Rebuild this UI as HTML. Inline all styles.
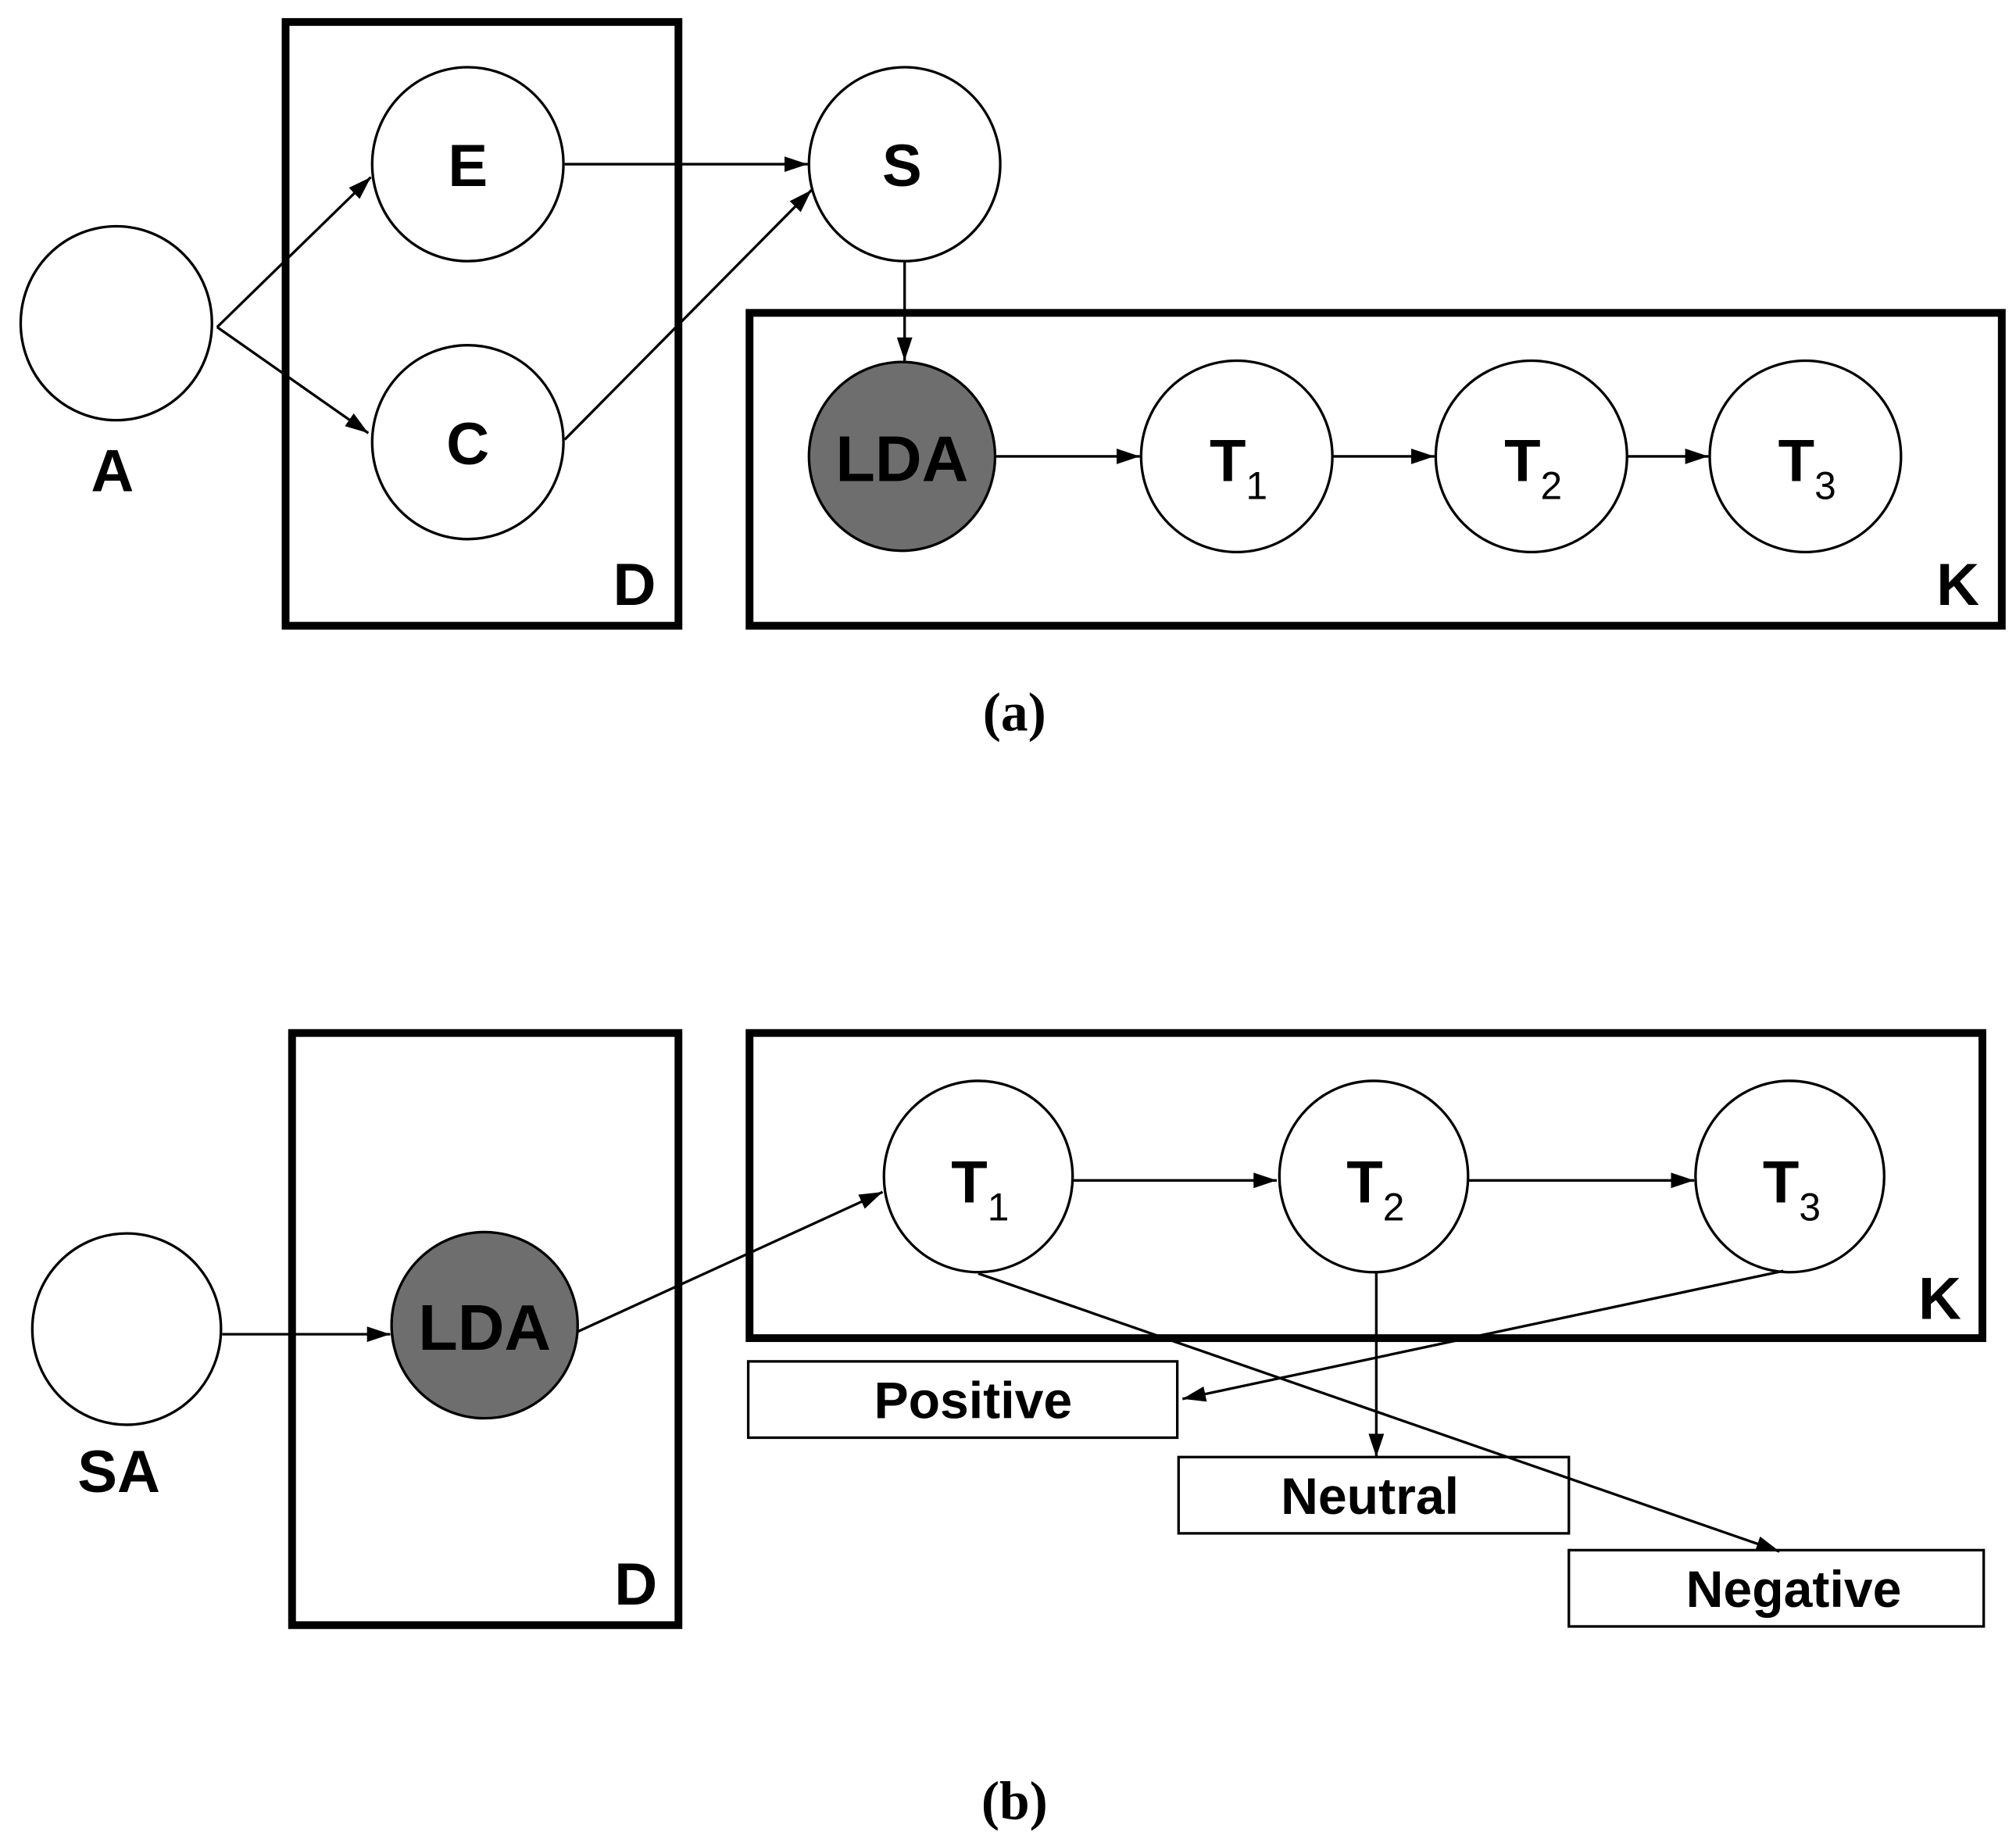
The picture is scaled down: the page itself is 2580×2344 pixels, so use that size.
<!DOCTYPE html>
<html><head><style>html,body{margin:0;padding:0;background:#fff}svg{display:block}</style></head>
<body>
<svg width="2580" height="2344" viewBox="0 0 1560 1417" preserveAspectRatio="none" xmlns="http://www.w3.org/2000/svg">
<defs>
<marker id="a2" viewBox="0 0 18 12" markerWidth="18" markerHeight="12" refX="18" refY="6" orient="auto" markerUnits="userSpaceOnUse"><path d="M0,0 L18,6 L0,12 z"/></marker>
</defs>
<g fill="none" stroke="#000" stroke-width="6">
<rect x="221" y="17" width="304" height="467"/>
<rect x="580" y="242" width="969" height="242"/>
<rect x="226" y="799" width="299" height="458"/>
<rect x="580" y="799" width="954" height="236"/>
</g>
<g fill="#fff" stroke="#000" stroke-width="2">
<rect x="579" y="1053" width="332" height="59"/>
<rect x="912" y="1127" width="302" height="59"/>
<rect x="1214" y="1199" width="321" height="59"/>
<ellipse cx="90" cy="250" rx="74" ry="75"/>
<ellipse cx="362" cy="127" rx="74" ry="75"/>
<ellipse cx="362" cy="342" rx="74" ry="75"/>
<ellipse cx="700" cy="127" rx="74" ry="75"/>
<ellipse cx="698" cy="353" rx="72" ry="73" fill="#6e6e6e"/>
<ellipse cx="957" cy="353" rx="74" ry="74"/>
<ellipse cx="1185" cy="353" rx="74" ry="74"/>
<ellipse cx="1397" cy="353" rx="74" ry="74"/>
<ellipse cx="98" cy="1028" rx="73" ry="74"/>
<ellipse cx="375" cy="1025" rx="72" ry="72" fill="#6e6e6e"/>
<ellipse cx="757" cy="910" rx="73" ry="74"/>
<ellipse cx="1063" cy="910" rx="73" ry="74"/>
<ellipse cx="1385" cy="910" rx="73" ry="74"/>
</g>
<g stroke="#000" stroke-width="2" fill="none" marker-end="url(#a2)">
<path d="M168,253 L287,137"/>
<path d="M168,253 L285,335"/>
<path d="M437,127 L625,127"/>
<path d="M437,340 L628,147"/>
<path d="M700,202 L700,279"/>
<path d="M770,353 L882,353"/>
<path d="M1031,353 L1110,353"/>
<path d="M1259,353 L1322,353"/>
<path d="M172,1032 L302,1032"/>
<path d="M447,1030 L683,922"/>
<path d="M830,913 L988,913"/>
<path d="M1136,913 L1311,913"/>
<path d="M757,985 L1377,1200"/>
<path d="M1065,984 L1065,1127"/>
<path d="M1380,983 L915,1082"/>
</g>
<g font-family="Liberation Sans, sans-serif" font-weight="bold" font-size="46" text-anchor="middle" fill="#000">
<text x="362" y="144">E</text>
<text x="362" y="359">C</text>
<text x="698" y="144">S</text>
<text x="87" y="380">A</text>
<text x="491" y="468">D</text>
<text x="1515" y="468">K</text>
<text x="698" y="372" font-size="50">LDA</text>
<text x="375" y="1044" font-size="50">LDA</text>
<text x="92" y="1154">SA</text>
<text x="492" y="1241">D</text>
<text x="1501" y="1020">K</text>
<text x="753" y="1097" font-size="40">Positive</text>
<text x="1060" y="1171" font-size="40">Neutral</text>
<text x="1388" y="1243" font-size="40">Negative</text>
</g>
<g font-family="Liberation Sans, sans-serif" font-size="46" fill="#000">
<text x="936" y="372" font-weight="bold">T<tspan font-weight="normal" font-size="30" dy="14">1</tspan></text>
<text x="1164" y="372" font-weight="bold">T<tspan font-weight="normal" font-size="30" dy="14">2</tspan></text>
<text x="1376" y="372" font-weight="bold">T<tspan font-weight="normal" font-size="30" dy="14">3</tspan></text>
<text x="736" y="930" font-weight="bold">T<tspan font-weight="normal" font-size="30" dy="14">1</tspan></text>
<text x="1042" y="930" font-weight="bold">T<tspan font-weight="normal" font-size="30" dy="14">2</tspan></text>
<text x="1364" y="930" font-weight="bold">T<tspan font-weight="normal" font-size="30" dy="14">3</tspan></text>
</g>
<g font-family="Liberation Serif, serif" font-weight="bold" font-size="42" text-anchor="middle" fill="#000">
<text x="785" y="565">(a)</text>
<text x="785" y="1407">(b)</text>
</g>
</svg>
</body></html>
